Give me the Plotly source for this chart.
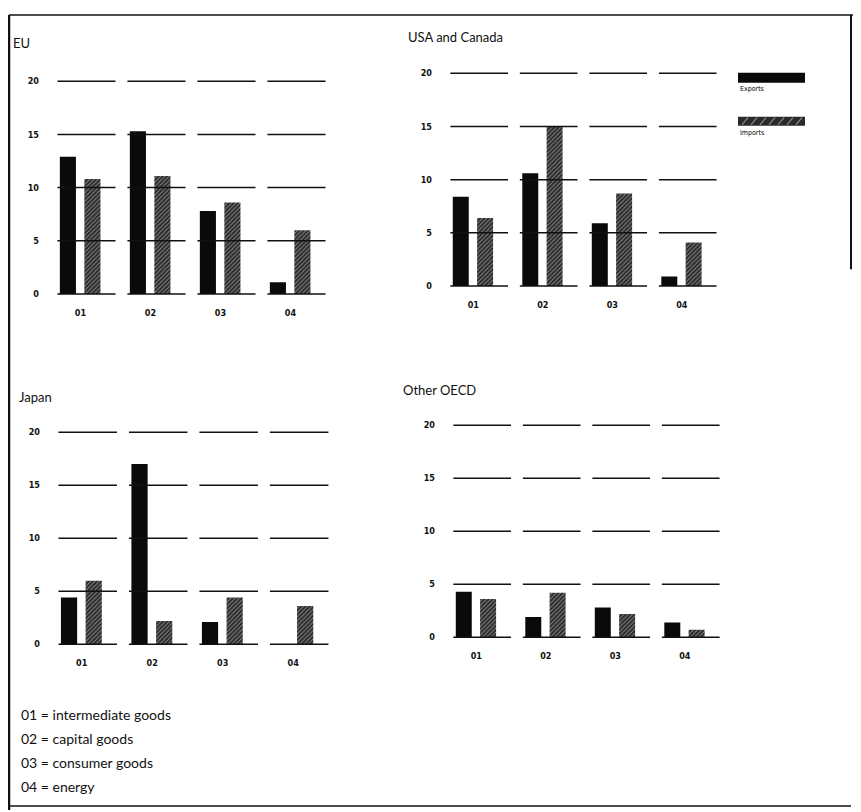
import plotly.graph_objects as go

# ---------------- data ----------------
categories = ["01", "02", "03", "04"]
y_ticks = [0, 5, 10, 15, 20]

eu_exports = [12.9, 15.3, 7.8, 1.1]
eu_imports = [10.8, 11.1, 8.6, 6.0]
usa_exports = [8.4, 10.6, 5.9, 0.9]
usa_imports = [6.4, 15.0, 8.7, 4.1]
japan_exports = [4.4, 17.0, 2.1, 0.0]
japan_imports = [6.0, 2.2, 4.4, 3.6]
other_exports = [4.3, 1.9, 2.8, 1.4]
other_imports = [3.6, 4.2, 2.2, 0.7]

panel_titles = ["EU", "USA and Canada", "Japan", "Other OECD"]
legend_labels = ["Exports", "Imports"]
footnotes = ["01 = intermediate goods", "02 = capital goods",
             "03 = consumer goods", "04 = energy"]

panels = [
    (eu_exports, eu_imports),
    (usa_exports, usa_imports),
    (japan_exports, japan_imports),
    (other_exports, other_imports),
]

# ---------------- layout geometry (page pixels) ----------------
OFF = 8            # default body margin of the html page
W, H = 861 - OFF, 812 - OFF


def px(x):
    return (x - OFF) / W


def py(y):
    return 1 - (y - OFF) / H


# (x_left, x_right, y_top, y_bottom) of each plot area in page pixels
areas = [
    (49, 336, 76, 298),
    (442, 727, 68, 290),
    (50, 339, 428, 649),
    (445, 730, 421, 642),
]
title_pos = [(11, 43), (406, 37), (17, 398), (401, 391)]

FONT = "Lato, 'Open Sans', sans-serif"
TICKFONT = dict(size=9, family="'DejaVu Sans Condensed', 'DejaVu Sans'", color="#111",
                weight="bold")
EXPORT_COLOR = "#0a0a0a"
IMPORT_BG = "#2a2a2a"
IMPORT_FG = "#8c8c8c"

fig = go.Figure()
layout = dict(
    width=W, height=H, margin=dict(l=0, r=0, t=0, b=0),
    paper_bgcolor="white", plot_bgcolor="white", showlegend=False,
    font=dict(family=FONT, color="#111"),
)

idx = list(range(len(categories)))
annotations = []
shapes = []

for p, ((exp, imp), (xl, xr, yt, yb)) in enumerate(zip(panels, areas)):
    n = "" if p == 0 else str(p + 1)
    xa, ya = "x" + n, "y" + n
    layout["xaxis" + n] = dict(
        domain=[px(xl), px(xr)], range=[-0.45, 3.65], anchor=ya,
        tickmode="array", tickvals=idx, ticktext=categories,
        showgrid=False, zeroline=False, showline=False, ticks="",
        tickfont=TICKFONT, ticklabelstandoff=9, fixedrange=True,
    )
    layout["yaxis" + n] = dict(
        domain=[py(yb), py(yt)], range=[-0.3, 20.5], anchor=xa,
        tickmode="array", tickvals=y_ticks, ticktext=[str(t) for t in y_ticks],
        showgrid=False, zeroline=False, showline=False, ticks="",
        tickfont=TICKFONT, ticklabelstandoff=9, fixedrange=True,
    )
    fig.add_trace(go.Bar(
        x=idx, y=exp, xaxis=xa, yaxis=ya, name=legend_labels[0],
        width=0.23, offset=-0.295,
        marker=dict(color=EXPORT_COLOR, line=dict(width=0)),
    ))
    fig.add_trace(go.Bar(
        x=idx, y=imp, xaxis=xa, yaxis=ya, name=legend_labels[1],
        width=0.23, offset=0.055,
        marker=dict(color=IMPORT_BG, line=dict(width=0),
                    pattern=dict(shape="/", fgcolor=IMPORT_FG, bgcolor=IMPORT_BG,
                                 size=3, solidity=0.3, fillmode="replace")),
    ))
    # per-category grid segments
    gx, gy = [], []
    for i in idx:
        for t in y_ticks:
            gx += [i - 0.33, i + 0.50, None]
            gy += [t, t, None]
    fig.add_trace(go.Scatter(
        x=gx, y=gy, xaxis=xa, yaxis=ya, mode="lines",
        line=dict(color="#111", width=1.5), hoverinfo="skip",
    ))
    tx, ty = title_pos[p]
    annotations.append(dict(
        text=panel_titles[p], x=px(tx), y=py(ty), xref="paper", yref="paper",
        xanchor="left", yanchor="middle", showarrow=False,
        font=dict(size=13, family=FONT, color="#111"),
    ))

# legend swatches (top right)
shapes.append(dict(type="rect", xref="paper", yref="paper",
                   x0=px(738), x1=px(805), y0=py(83), y1=py(73),
                   fillcolor=EXPORT_COLOR, line=dict(width=0)))
shapes.append(dict(type="rect", xref="paper", yref="paper",
                   x0=px(738), x1=px(805), y0=py(126), y1=py(117),
                   fillcolor=IMPORT_BG, line=dict(width=0)))
for k in range(7):
    x0 = 742 + k * 9
    shapes.append(dict(type="line", xref="paper", yref="paper",
                       x0=px(x0), x1=px(x0 + 6), y0=py(125), y1=py(118),
                       line=dict(color=IMPORT_FG, width=1.2)))
for label, yy in zip(legend_labels, [89, 133]):
    annotations.append(dict(
        text=label, x=px(738), y=py(yy), xref="paper", yref="paper",
        xanchor="left", yanchor="middle", showarrow=False,
        font=dict(size=7, family="'DejaVu Sans Condensed', 'DejaVu Sans'", color="#000"),
    ))

# footnotes
for k, txt in enumerate(footnotes):
    yy = [716, 740, 764, 788][k]
    annotations.append(dict(
        text=txt, x=px(19), y=py(yy), xref="paper", yref="paper",
        xanchor="left", yanchor="middle", showarrow=False,
        font=dict(size=14, family=FONT, color="#111"),
    ))

# scanned frame
frame = [
    (9, 15, 9, 812, 2.5),
    (9, 15, 861, 15, 1.5),
    (851, 15, 851, 270, 2.0),
    (9, 808, 851, 808, 1.5),
]
for x0, y0, x1, y1, w in frame:
    shapes.append(dict(type="line", xref="paper", yref="paper",
                       x0=px(x0), y0=py(y0), x1=px(x1), y1=py(y1),
                       line=dict(color="#111", width=w)))

layout["annotations"] = annotations
layout["shapes"] = shapes
fig.update_layout(**layout)
fig.write_html("out.html")
